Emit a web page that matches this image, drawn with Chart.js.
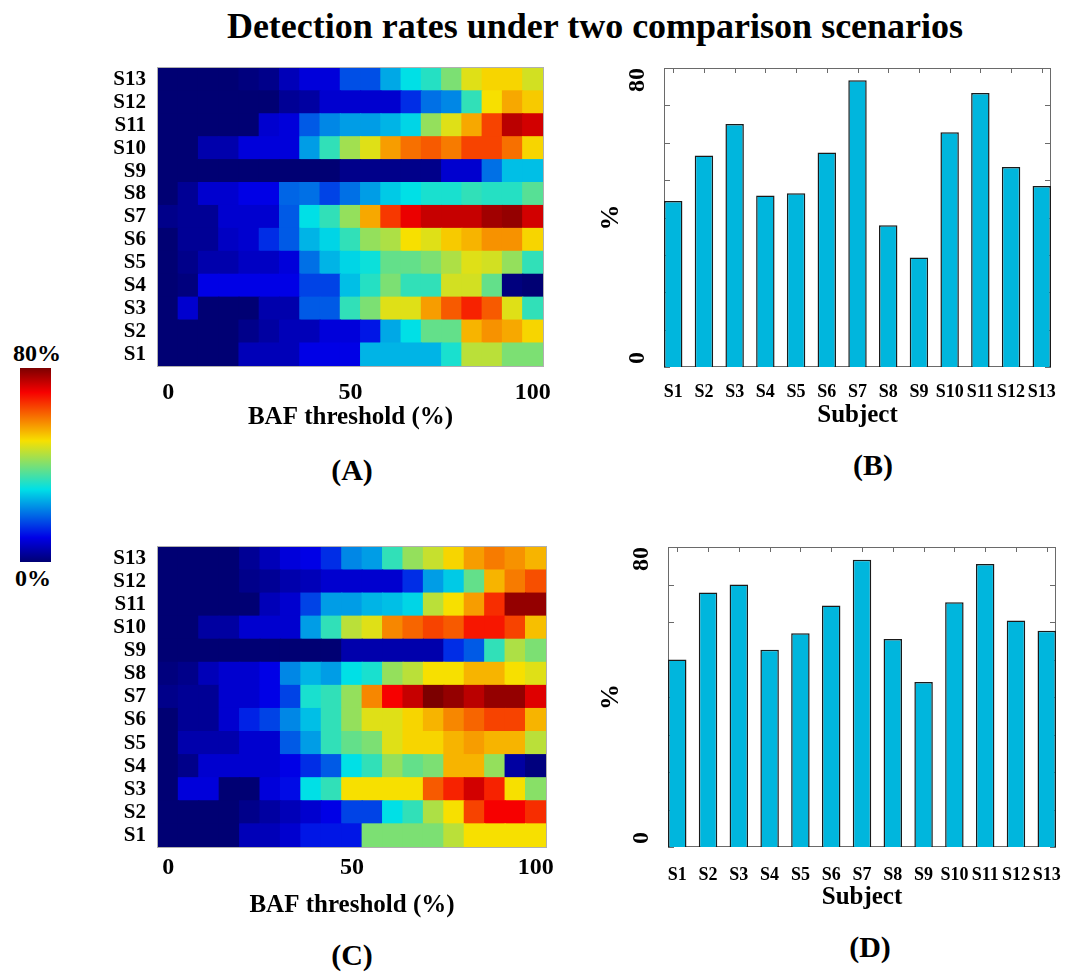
<!DOCTYPE html>
<html>
<head>
<meta charset="utf-8">
<title>Detection rates under two comparison scenarios</title>
<script src="https://cdn.jsdelivr.net/npm/chart.js@4.4.1/dist/chart.umd.min.js"></script>
<style>
  html, body { margin: 0; padding: 0; background: #fff; }
  body {
    width: 1069px; height: 973px; position: relative; overflow: hidden;
    font-family: 'Liberation Serif', 'Times New Roman', serif; font-weight: bold; color: #000;
  }
  canvas { position: absolute; }
  .txt { position: absolute; white-space: nowrap; transform: translate(-50%, -50%); line-height: 1; }
  #title { font-size: 36px; left: 595px; top: 26px; }
  .panel { font-size: 30px; }
  .cbar-label { font-size: 24px; }
  #cbar { position: absolute; left: 20px; top: 368px; width: 31px; height: 194px; }
</style>
</head>
<body>
<div id="title" class="txt">Detection rates under two comparison scenarios</div>

<div id="cbar"></div>
<div class="txt cbar-label" style="left:37px;top:353px">80%</div>
<div class="txt cbar-label" style="left:33px;top:578px">0%</div>

<canvas id="heatA" width="470" height="382" style="left:90px;top:58px"></canvas>
<canvas id="barsB" width="475" height="374" style="left:590px;top:58px"></canvas>
<canvas id="heatC" width="470" height="393" style="left:90px;top:537px"></canvas>
<canvas id="barsD" width="475" height="380" style="left:590px;top:537px"></canvas>

<div class="txt panel" style="left:352px;top:470px">(A)</div>
<div class="txt panel" style="left:873px;top:465px">(B)</div>
<div class="txt panel" style="left:352px;top:955px">(C)</div>
<div class="txt panel" style="left:870px;top:947px">(D)</div>

<script>
const subjects = ['S1', 'S2', 'S3', 'S4', 'S5', 'S6', 'S7', 'S8', 'S9', 'S10', 'S11', 'S12', 'S13'];
const bafSteps = [0, 5.6, 11.1, 16.7, 22.2, 27.8, 33.3, 38.9, 44.4, 50, 55.6, 61.1, 66.7, 72.2, 77.8, 83.3, 88.9, 94.4, 100];
const bafShown = [0, 50, 100];
const colorMax = 80;

// detection rate (%) per BAF step, rows S1 .. S13
const heatA = [
  [0, 0, 0, 0, 6, 6, 6, 10, 10, 10, 26, 26, 26, 26, 32, 45, 45, 40, 40],
  [0, 0, 0, 0, 2, 4, 6, 6, 9, 9, 12, 25, 30, 38, 38, 54, 57, 55, 51],
  [0, 8, 0, 0, 0, 5, 5, 18, 18, 34, 40, 48, 48, 56, 62, 67, 62, 48, 34],
  [0, 1, 10, 10, 10, 10, 10, 16, 16, 27, 33, 40, 34, 34, 47, 47, 38, 1, 0],
  [0, 2, 5, 5, 7, 7, 9, 20, 26, 29, 31, 38, 38, 40, 44, 48, 47, 42, 34],
  [0, 3, 3, 7, 8, 14, 18, 26, 29, 34, 42, 44, 50, 48, 52, 54, 57, 57, 51],
  [2, 3, 3, 8, 8, 8, 18, 30, 34, 42, 55, 65, 71, 74, 74, 74, 77, 78, 73],
  [0, 3, 8, 8, 10, 10, 19, 20, 16, 20, 24, 28, 30, 32, 32, 34, 33, 33, 37],
  [0, 0, 0, 0, 0, 0, 0, 0, 0, 2, 2, 2, 2, 2, 8, 8, 20, 27, 27],
  [0, 0, 5, 5, 9, 9, 9, 24, 34, 43, 48, 56, 60, 62, 59, 64, 64, 60, 51],
  [0, 0, 0, 0, 0, 8, 9, 18, 22, 24, 24, 26, 29, 42, 48, 55, 64, 75, 73],
  [0, 0, 0, 0, 0, 0, 3, 4, 8, 8, 8, 8, 14, 20, 22, 34, 50, 55, 52],
  [0, 0, 0, 0, 1, 2, 6, 9, 9, 17, 17, 25, 30, 33, 40, 48, 51, 51, 47]
];

const heatC = [
  [0, 0, 0, 0, 6, 6, 8, 12, 12, 12, 40, 40, 40, 40, 45, 50, 50, 50, 50],
  [0, 0, 0, 0, 2, 4, 6, 8, 10, 16, 16, 30, 34, 44, 50, 64, 70, 70, 66],
  [0, 9, 9, 0, 0, 9, 11, 30, 34, 50, 50, 50, 50, 62, 67, 73, 67, 50, 41],
  [0, 2, 8, 8, 8, 8, 10, 14, 18, 30, 34, 42, 38, 40, 54, 54, 42, 4, 1],
  [0, 5, 5, 5, 8, 8, 18, 24, 34, 38, 40, 48, 51, 51, 54, 56, 54, 54, 45],
  [0, 3, 3, 8, 13, 16, 22, 27, 34, 42, 48, 48, 51, 54, 58, 61, 64, 64, 54],
  [2, 3, 3, 8, 8, 10, 16, 32, 34, 42, 58, 70, 74, 80, 78, 75, 78, 78, 72],
  [1, 2, 6, 8, 8, 10, 22, 26, 24, 30, 32, 42, 45, 50, 50, 54, 54, 50, 48],
  [0, 0, 0, 0, 0, 0, 0, 0, 0, 5, 5, 5, 5, 5, 14, 18, 34, 44, 40],
  [0, 0, 4, 4, 8, 8, 8, 24, 34, 45, 48, 58, 61, 64, 62, 68, 68, 64, 53],
  [0, 0, 0, 0, 0, 6, 8, 16, 24, 24, 26, 27, 29, 45, 50, 56, 66, 78, 78],
  [0, 0, 0, 0, 2, 3, 5, 6, 8, 8, 8, 8, 14, 24, 28, 38, 54, 59, 63],
  [0, 0, 0, 0, 3, 6, 9, 10, 14, 22, 24, 34, 42, 46, 51, 56, 59, 57, 54]
];

const rateB = [44.4, 56.6, 65.0, 45.9, 46.5, 57.4, 76.7, 37.9, 29.3, 62.8, 73.3, 53.5, 48.4];
const rateD = [50.0, 67.9, 70.0, 52.6, 57.0, 64.4, 76.6, 55.5, 44.0, 65.3, 75.5, 60.4, 57.7];
const barTicks = [0, 80];

const FONT = "'Liberation Serif', 'Times New Roman', serif";
Chart.defaults.font.family = FONT;
Chart.defaults.font.weight = 'bold';
Chart.defaults.color = '#000';
Chart.defaults.animation = false;
Chart.defaults.plugins.legend.display = false;
Chart.defaults.plugins.tooltip.enabled = false;

// matlab "jet" colormap, t in 0..1 (slightly muted like the printed figure)
function jet(t) {
  const c = (x, k) => Math.round(255 * k * Math.min(1, Math.max(0, x)));
  return 'rgb(' + c(1.5 - Math.abs(4 * t - 3), 0.97) + ',' +
    c(1.5 - Math.abs(4 * t - 2), 0.88) + ',' + c(1.5 - Math.abs(4 * t - 1), 0.9) + ')';
}

// colorbar
document.getElementById('cbar').style.background = 'linear-gradient(to top, ' +
  [0, 0.125, 0.375, 0.625, 0.875, 1].map(t => jet(t) + ' ' + (t * 100) + '%').join(', ') + ')';

const noGrid = { display: false, drawTicks: false };

// keep tick labels from pushing the plot area around
function fixSize(s, key, size) {
  s[key] = size;
  s.paddingTop = 0;
  s.paddingBottom = 0;
  s.paddingLeft = 0;
  s.paddingRight = 0;
}

const heatFrame = {
  id: 'heatFrame',
  afterDatasetsDraw(chart) {
    const { ctx, chartArea: a } = chart;
    ctx.save();
    ctx.strokeStyle = '#b0b0b0';
    ctx.lineWidth = 1;
    ctx.strokeRect(a.left - 0.5, a.top - 0.5, a.width + 1, a.height + 1);
    ctx.restore();
  }
};

const barFrame = {
  id: 'barFrame',
  beforeDatasetsDraw(chart) {
    const { ctx, chartArea: a, scales: { x, y } } = chart;
    ctx.save();
    ctx.strokeStyle = '#6a6a6a';
    ctx.lineWidth = 1;
    ctx.strokeRect(a.left + 0.5, a.top + 0.5, a.width - 1, a.height - 1);
    ctx.beginPath();
    y.ticks.forEach(t => {
      const py = Math.round(y.getPixelForValue(t.value)) + 0.5;
      ctx.moveTo(a.left, py); ctx.lineTo(a.left + 6, py);
      ctx.moveTo(a.right, py); ctx.lineTo(a.right - 6, py);
    });
    x.ticks.forEach(t => {
      const px = Math.round(x.getPixelForValue(t.value)) + 0.5;
      ctx.moveTo(px, a.top); ctx.lineTo(px, a.top + 5);
    });
    ctx.stroke();
    ctx.restore();
  },
  afterDraw(chart) {
    // rotated y tick labels, as in the original figure
    const { ctx, chartArea: a, scales: { y } } = chart;
    ctx.save();
    ctx.font = 'bold 24px ' + FONT;
    ctx.fillStyle = '#000';
    ctx.textBaseline = 'middle';
    barTicks.forEach(t => {
      ctx.save();
      const atMin = t === y.min;
      ctx.translate(a.left - 26, y.getPixelForValue(t) + (atMin ? -3 : 0));
      ctx.rotate(-Math.PI / 2);
      ctx.textAlign = atMin ? 'left' : 'right';
      ctx.fillText(String(t), 0, 0);
      ctx.restore();
    });
    ctx.restore();
  }
};

function makeHeatmap(id, grid, lay) {
  return new Chart(document.getElementById(id), {
    type: 'bar',
    data: {
      labels: bafSteps,
      datasets: grid.map((row, i) => ({
        label: subjects[i],
        data: row.map(() => 1),
        backgroundColor: row.map(v => jet(v / colorMax)),
        borderWidth: 0,
        barPercentage: 1,
        categoryPercentage: 1,
        inflateAmount: 0.6
      }))
    },
    options: {
      responsive: false,
      layout: { padding: { top: lay.top, right: lay.right, left: 0, bottom: 0 } },
      scales: {
        x: {
          stacked: true,
          grid: noGrid,
          border: { display: false },
          ticks: {
            autoSkip: false,
            maxRotation: 0,
            padding: lay.tickPad,
            font: { size: 24 },
            callback(v) {
              const s = this.getLabelForValue(v);
              return bafShown.includes(s) ? String(s) : '';
            }
          },
          title: { display: true, text: 'BAF threshold (%)', font: { size: 25 }, padding: { top: 0, bottom: lay.titlePad } },
          afterFit(s) { fixSize(s, 'height', lay.xh); }
        },
        y: {
          stacked: true,
          min: 0,
          max: subjects.length,
          grid: noGrid,
          border: { display: false },
          afterBuildTicks(s) { s.ticks = subjects.map((n, i) => ({ value: i + 0.5 })); },
          ticks: { autoSkip: false, padding: 12, font: { size: 21 }, callback: v => subjects[Math.floor(v)] },
          afterFit(s) { fixSize(s, 'width', lay.yw); }
        }
      }
    },
    plugins: [heatFrame]
  });
}

function makeBars(id, rates, lay) {
  return new Chart(document.getElementById(id), {
    type: 'bar',
    data: {
      datasets: [{
        label: '%',
        data: rates.map((v, i) => ({ x: i + 1, y: v })),
        backgroundColor: 'rgb(0,182,221)',
        borderColor: '#1a1a1a',
        borderWidth: 1.5,
        barPercentage: 0.6,
        categoryPercentage: 1
      }]
    },
    options: {
      responsive: false,
      layout: { padding: { top: 10, right: lay.right, left: 0, bottom: 0 } },
      scales: {
        x: {
          type: 'linear',
          offset: false,
          min: 0.7,
          max: subjects.length + 0.3,
          grid: noGrid,
          border: { display: false },
          afterBuildTicks(s) { s.ticks = subjects.map((n, i) => ({ value: i + 1 })); },
          ticks: {
            autoSkip: false,
            maxRotation: 0,
            padding: lay.tickPad,
            font: { size: 18 },
            callback: v => subjects[Math.round(v) - 1]
          },
          title: { display: true, text: 'Subject', font: { size: 25 }, padding: { top: 0, bottom: lay.titlePad } },
          afterFit(s) { fixSize(s, 'height', lay.xh); }
        },
        y: {
          min: 0,
          max: 80,
          grid: noGrid,
          border: { display: false },
          ticks: { display: false, stepSize: 10 },
          title: { display: true, text: '%', font: { size: 26 }, padding: { top: 6, bottom: 0 } },
          afterFit(s) { fixSize(s, 'width', lay.yw); }
        }
      }
    },
    plugins: [barFrame]
  });
}

makeHeatmap('heatA', heatA, { top: 10, right: 17, yw: 68, xh: 74, tickPad: 12, titlePad: 7 });
makeHeatmap('heatC', heatC, { top: 10, right: 14, yw: 68, xh: 83, tickPad: 6, titlePad: 9 });
makeBars('barsB', rateB, { right: 14, yw: 74, xh: 65, tickPad: 15, titlePad: 1 });
makeBars('barsD', rateD, { right: 9, yw: 78, xh: 70, tickPad: 18, titlePad: 4 });
</script>
</body>
</html>
